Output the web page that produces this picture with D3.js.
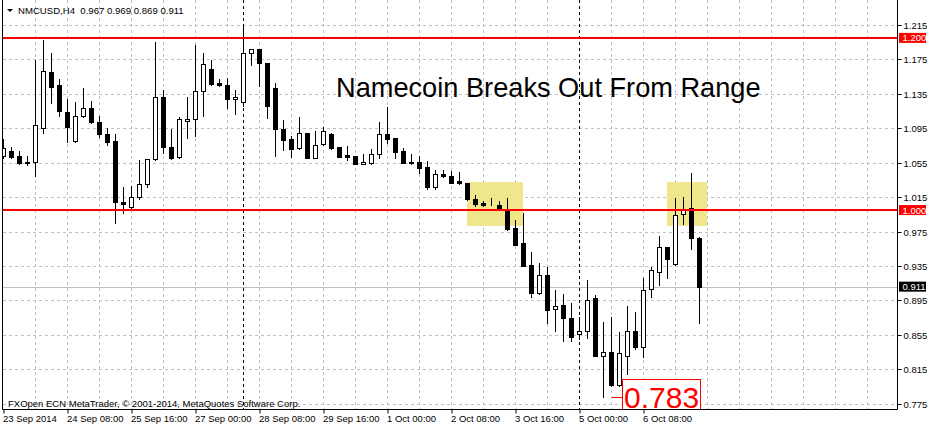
<!DOCTYPE html>
<html>
<head>
<meta charset="utf-8">
<script src="https://cdn.jsdelivr.net/npm/d3@7"></script>
<style>
	html, body { margin: 0; padding: 0; background: #fff; }
	svg { display: block; }
	text { font-family: "Liberation Sans", Arial, sans-serif; }
</style>
</head>
<body>
<svg id="chart" width="937" height="427"></svg>
<script>
// NMCUSD H4, one bar per 4 hours starting 23 Sep 2014 00:00
var opens = [1.063, 1.069, 1.063, 1.056, 1.056, 1.095, 1.160, 1.145, 1.114, 1.080,
	1.109, 1.119, 1.102, 1.088, 1.080, 1.009, 1.003, 1.015, 1.030, 1.059,
	1.131, 1.073, 1.062, 1.103, 1.106, 1.138, 1.164, 1.148, 1.145, 1.129,
	1.126, 1.182, 1.187, 1.171, 1.142, 1.094, 1.083, 1.072, 1.089, 1.060,
	1.077, 1.088, 1.073, 1.064, 1.063, 1.053, 1.055, 1.065, 1.088, 1.084,
	1.069, 1.0555, 1.0555, 1.050, 1.027, 1.042, 1.040, 1.034, 1.031, 1.013,
	1.008, 1.006, 1.006, 1.000, 0.979, 0.962, 0.936, 0.904, 0.925, 0.885,
	0.890, 0.875, 0.856, 0.859, 0.898, 0.831, 0.835, 0.797, 0.830, 0.860,
	0.841, 0.908, 0.928, 0.957, 0.937, 0.995, 1.002, 0.967];
var highs = [1.083, 1.073, 1.069, 1.063, 1.174, 1.198, 1.183, 1.152, 1.129, 1.126,
	1.142, 1.127, 1.109, 1.095, 1.088, 1.027, 1.028, 1.058, 1.059, 1.195,
	1.139, 1.094, 1.108, 1.131, 1.192, 1.183, 1.174, 1.152, 1.153, 1.139,
	1.215, 1.187, 1.187, 1.171, 1.148, 1.105, 1.086, 1.108, 1.089, 1.092,
	1.097, 1.089, 1.073, 1.074, 1.063, 1.065, 1.071, 1.102, 1.120, 1.084,
	1.072, 1.065, 1.063, 1.057, 1.046, 1.046, 1.045, 1.044, 1.032, 1.017,
	1.011, 1.014, 1.010, 1.014, 0.988, 0.996, 0.951, 0.939, 0.934, 0.907,
	0.903, 0.892, 0.876, 0.919, 0.901, 0.870, 0.876, 0.858, 0.888, 0.881,
	0.921, 0.934, 0.970, 0.957, 1.014, 1.015, 1.043, 0.969];
var lows = [1.061, 1.060, 1.054, 1.052, 1.040, 1.090, 1.124, 1.109, 1.079, 1.079,
	1.108, 1.101, 1.085, 1.076, 0.985, 0.997, 1.001, 1.013, 1.027, 1.058,
	1.066, 1.059, 1.061, 1.084, 1.086, 1.109, 1.145, 1.144, 1.119, 1.112,
	1.121, 1.168, 1.144, 1.107, 1.063, 1.070, 1.062, 1.071, 1.060, 1.060,
	1.076, 1.071, 1.062, 1.058, 1.054, 1.053, 1.053, 1.060, 1.078, 1.060,
	1.055, 1.054, 1.043, 1.024, 1.025, 1.038, 1.031, 1.030, 1.012, 1.005,
	1.005, 1.0055, 1.001, 0.977, 0.959, 0.935, 0.899, 0.902, 0.869, 0.860,
	0.848, 0.848, 0.850, 0.851, 0.830, 0.783, 0.795, 0.795, 0.810, 0.838,
	0.829, 0.899, 0.913, 0.921, 0.936, 0.984, 0.955, 0.869];
var closes = [1.072, 1.062, 1.055, 1.055, 1.099, 1.161, 1.143, 1.115, 1.096, 1.109,
	1.119, 1.102, 1.088, 1.079, 1.009, 1.007, 1.015, 1.030, 1.059, 1.131,
	1.073, 1.060, 1.106, 1.1055, 1.138, 1.170, 1.146, 1.145, 1.129, 1.131,
	1.182, 1.187, 1.171, 1.121, 1.094, 1.081, 1.071, 1.089, 1.060, 1.076,
	1.092, 1.072, 1.062, 1.062, 1.054, 1.056, 1.065, 1.088, 1.082, 1.068,
	1.055, 1.055, 1.049, 1.027, 1.042, 1.040, 1.032, 1.031, 1.013, 1.007,
	1.0055, 1.0055, 1.001, 0.978, 0.959, 0.935, 0.904, 0.924, 0.884, 0.889,
	0.875, 0.852, 0.859, 0.896, 0.831, 0.835, 0.797, 0.834, 0.859, 0.841,
	0.907, 0.930, 0.957, 0.943, 0.994, 1.000, 0.968, 0.911];

var timeLabels = ["23 Sep 2014", "24 Sep 08:00", "25 Sep 16:00", "27 Sep 00:00", "28 Sep 08:00",
	"29 Sep 16:00", "1 Oct 00:00", "2 Oct 08:00", "3 Oct 16:00", "5 Oct 00:00", "6 Oct 08:00"];
var timeLabelBars = [0, 8, 16, 24, 32, 40, 48, 56, 64, 72, 80];
var priceTicks = [1.215, 1.175, 1.135, 1.095, 1.055, 1.015, 0.975, 0.935, 0.895, 0.855, 0.815, 0.775];
var weekSeparators = [30, 72];
var levelLines = [1.200, 1.000];
var bidPrice = 0.911;
var lowMark = 0.783;
var zoneBars = [[58, 65], [83, 88]];
var zonePrices = [1.0325, 0.9815];

// plot box (note: "top" is reserved on window, so use other names)
var plotLeft = 3, plotRight = 897, plotTop = 0, plotBottom = 409;

var svg = d3.select("#chart");

var x = d3.scaleLinear().domain([0, 111.6875]).range([3.5, 897]);
var y = d3.scaleLinear().domain([0.775, 1.215]).range([403.7, 25]);
var py = function(p) { return Math.round(y(p)) + 0.5; };

svg.append("defs").append("clipPath").attr("id", "plotClip")
	.append("rect").attr("x", plotLeft).attr("y", plotTop)
	.attr("width", plotRight - plotLeft).attr("height", plotBottom - plotTop);

var plot = svg.append("g").attr("clip-path", "url(#plotClip)");

// grid
var vGrid = d3.range(4, 112, 4);
plot.selectAll(".vgrid").data(vGrid).enter().append("line")
	.attr("x1", function(d) { return x(d); })
	.attr("x2", function(d) { return x(d); })
	.attr("y1", plotTop).attr("y2", plotBottom)
	.style("stroke", "#c0c0c0").style("stroke-dasharray", "3,3");
plot.selectAll(".hgrid").data(priceTicks).enter().append("line")
	.attr("x1", plotLeft).attr("x2", plotRight)
	.attr("y1", function(d) { return py(d); })
	.attr("y2", function(d) { return py(d); })
	.style("stroke", "#c0c0c0").style("stroke-dasharray", "3,3");

// highlighted zones
plot.selectAll(".zone").data(zoneBars).enter().append("rect")
	.attr("x", function(d) { return x(d[0]) - 0.5; })
	.attr("width", function(d) { return x(d[1]) - x(d[0]); })
	.attr("y", y(zonePrices[0]))
	.attr("height", y(zonePrices[1]) - y(zonePrices[0]))
	.style("fill", "#f0e68c");

// week separators
plot.selectAll(".sep").data(weekSeparators).enter().append("line")
	.attr("x1", function(d) { return x(d); })
	.attr("x2", function(d) { return x(d); })
	.attr("y1", plotTop).attr("y2", plotBottom)
	.style("stroke", "#000").style("stroke-dasharray", "3,3");

// bid line
plot.append("line")
	.attr("x1", plotLeft).attr("x2", plotRight)
	.attr("y1", py(bidPrice)).attr("y2", py(bidPrice))
	.style("stroke", "#c0c0c0");

// candles
var bars = d3.range(opens.length);
var candle = plot.selectAll(".candle").data(bars).enter().append("g");
candle.append("line")
	.attr("x1", function(i) { return x(i); })
	.attr("x2", function(i) { return x(i); })
	.attr("y1", function(i) { return Math.round(y(highs[i])); })
	.attr("y2", function(i) { return Math.round(y(lows[i])) + 1; })
	.style("stroke", "#000");
candle.append("rect")
	.attr("x", function(i) { return x(i) - 2; })
	.attr("width", 4)
	.attr("y", function(i) { return py(Math.max(opens[i], closes[i])); })
	.attr("height", function(i) {
		return py(Math.min(opens[i], closes[i])) - py(Math.max(opens[i], closes[i]));
	})
	.style("fill", function(i) { return closes[i] >= opens[i] ? "#fff" : "#000"; })
	.style("stroke", "#000");

// horizontal levels
plot.selectAll(".level").data(levelLines).enter().append("line")
	.attr("x1", plotLeft).attr("x2", plotRight)
	.attr("y1", function(d) { return y(d); })
	.attr("y2", function(d) { return y(d); })
	.style("stroke", "#ff0000").style("stroke-width", 2);

// title
plot.append("text")
	.attr("x", 336).attr("y", 97)
	.style("font-size", "27.2px").style("fill", "#000")
	.text("Namecoin Breaks Out From Range");

// low price label
plot.append("line")
	.attr("x1", 612).attr("x2", 622)
	.attr("y1", py(lowMark)).attr("y2", py(lowMark))
	.style("stroke", "#ff0000");
plot.append("rect")
	.attr("x", 622.5).attr("y", 379.5).attr("width", 78).attr("height", 40)
	.style("fill", "#fff").style("stroke", "#ff0000");
plot.append("text")
	.attr("x", 624).attr("y", 408)
	.style("font-size", "30px").style("fill", "#ff0000")
	.text(d3.format(".3f")(lowMark));

// header and copyright
plot.append("path").attr("d", "M7,9L13,9L10,12Z").style("fill", "#000");
plot.append("text")
	.attr("x", 18).attr("y", 13.5)
	.style("font-size", "9.6px").style("fill", "#000")
	.style("white-space", "pre")
	.text("NMCUSD,H4  " + [opens[87], highs[87], lows[87], closes[87]].map(d3.format(".3f")).join(" "));
plot.append("text")
	.attr("x", 8).attr("y", 406.5)
	.style("font-size", "9.5px").style("fill", "#000")
	.text("FXOpen ECN MetaTrader, \u00a9 2001-2014, MetaQuotes Software Corp.");

// frame
svg.append("path")
	.attr("d", "M2.5,0V409.5H897.5V0")
	.style("fill", "none").style("stroke", "#000");

// price axis
var yAxis = d3.axisRight(y).tickValues(priceTicks).tickSize(4).tickPadding(2)
	.tickFormat(d3.format(".3f"));
var yAxisG = svg.append("g").attr("transform", "translate(897.5,0)").call(yAxis);
yAxisG.select(".domain").remove();
yAxisG.selectAll(".tick").attr("transform", function(d) { return "translate(0," + py(d) + ")"; });
yAxisG.selectAll("text").style("font-family", "Liberation Sans, Arial, sans-serif")
	.style("font-size", "9.5px").style("fill", "#000");

// price tags on the axis
var tags = levelLines.map(function(d) { return { v: d, bg: "#ff0000" }; })
	.concat([{ v: bidPrice, bg: "#000" }]);
var tag = svg.selectAll(".tag").data(tags).enter().append("g")
	.attr("transform", function(d) { return "translate(899," + y(d.v) + ")"; });
tag.append("rect")
	.attr("x", 0).attr("y", -5).attr("width", 27).attr("height", 10)
	.style("fill", function(d) { return d.bg; });
tag.append("text")
	.attr("x", 3.5).attr("y", 3.5)
	.style("font-size", "9.5px").style("fill", "#fff")
	.text(function(d) { return d3.format(".3f")(d.v); });

// time axis
var xAxis = d3.axisBottom(x).tickValues(timeLabelBars).tickSize(4).tickPadding(2)
	.tickFormat(function(d, i) { return timeLabels[i]; });
var xAxisG = svg.append("g").attr("transform", "translate(0,409.5)").call(xAxis);
xAxisG.select(".domain").remove();
xAxisG.selectAll("text")
	.attr("text-anchor", "start").attr("dx", -1)
	.style("font-family", "Liberation Sans, Arial, sans-serif")
	.style("font-size", "9.5px").style("fill", "#000");
</script>
</body>
</html>
